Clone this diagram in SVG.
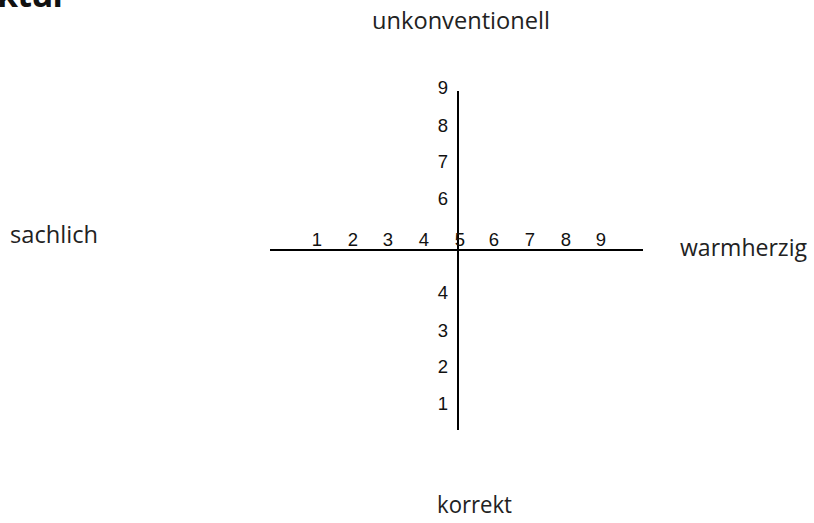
<svg xmlns="http://www.w3.org/2000/svg" width="814" height="523" viewBox="0 0 814 523">
<style>
.lbl{font-family:"Open Sans","Noto Sans",sans-serif;font-size:23px;fill:#222}
.num{font-family:"Liberation Sans",Arial,sans-serif;font-size:18.5px;fill:#111;text-anchor:middle}
.ax{stroke:#000;stroke-width:2}
</style>
<rect width="814" height="523" fill="#fff"/>
<text x="-3" y="7" textLength="71" style="font-family:'Open Sans',sans-serif;font-weight:bold;font-size:34px;fill:#111">ktur</text>
<g id="connectors">
<line class="ax" x1="270" y1="250" x2="643" y2="250"/>
<line class="ax" x1="458" y1="91" x2="458" y2="430"/>
</g>
<g id="labels">
<text class="lbl" x="372" y="29" textLength="178" lengthAdjust="spacingAndGlyphs">unkonventionell</text>
<text class="lbl" x="10" y="243" textLength="88" lengthAdjust="spacingAndGlyphs">sachlich</text>
<text class="lbl" x="680" y="256" textLength="127" lengthAdjust="spacingAndGlyphs">warmherzig</text>
<text class="lbl" x="437" y="513" textLength="75" lengthAdjust="spacingAndGlyphs">korrekt</text>
</g>
<g id="h-scale">
<text class="num" x="317" y="246">1</text>
<text class="num" x="353" y="246">2</text>
<text class="num" x="388" y="246">3</text>
<text class="num" x="424" y="246">4</text>
<text class="num" x="460" y="246">5</text>
<text class="num" x="494" y="246">6</text>
<text class="num" x="530" y="246">7</text>
<text class="num" x="566" y="246">8</text>
<text class="num" x="601" y="246">9</text>
</g>
<g id="v-scale">
<text class="num" x="443" y="94">9</text>
<text class="num" x="443" y="132">8</text>
<text class="num" x="443" y="168">7</text>
<text class="num" x="443" y="205">6</text>
<text class="num" x="443" y="299">4</text>
<text class="num" x="443" y="337">3</text>
<text class="num" x="443" y="373">2</text>
<text class="num" x="443" y="410">1</text>
</g>
</svg>
